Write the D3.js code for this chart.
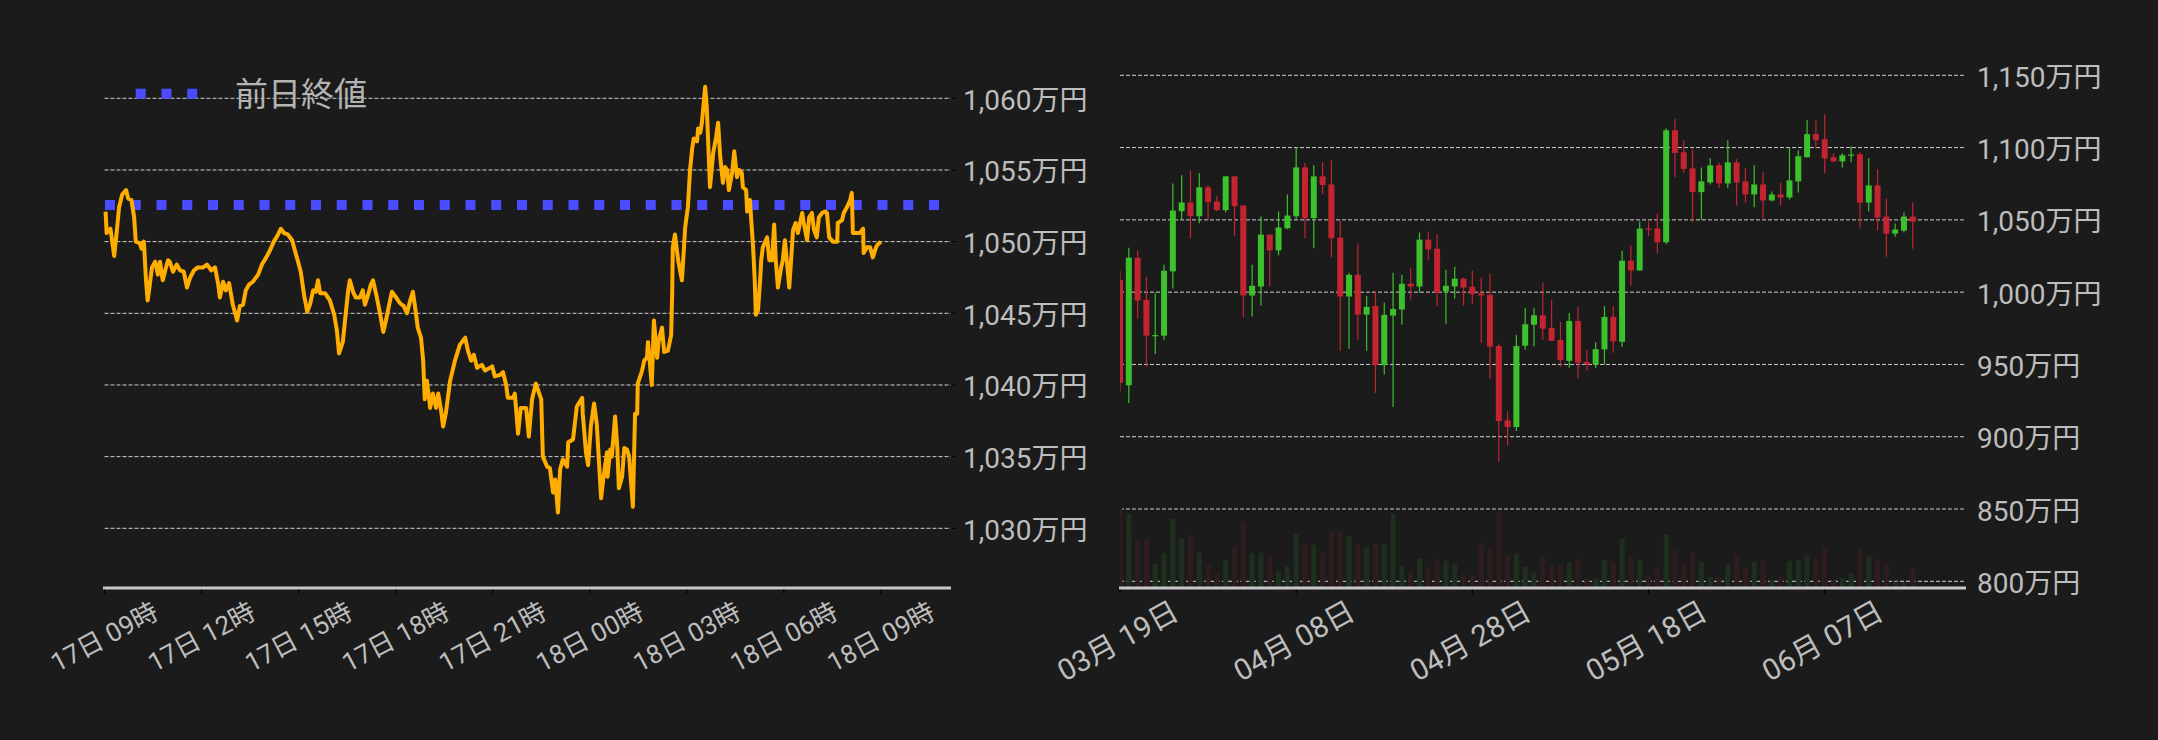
<!DOCTYPE html>
<html>
<head>
<meta charset="utf-8">
<script src="https://d3js.org/d3.v7.min.js"></script>
<style>
  body { margin: 0; background: #1b1b1b; }
  svg { display: block; }
  text { font-family: Roboto, 'Noto Sans CJK JP', sans-serif; fill: #bdbdbd; }
</style>
</head>
<body>
<svg id="chart" width="2158" height="740"></svg>
<script>
// ---------- intraday (17日 09時 -> 18日 09時), minutes from start / price in 万円
const lineMinutes = [2,4,11,18,23,27,33,40,44,50,55,58,65,69,73,77,80,84,88,94,99,103,108,114,118,121,127,134,140,147,
  153,159,166,173,183,190,198,205,211,214,220,225,231,238,246,251,257,262,268,275,285,292,300,307,314,322,327,333,340,348,
  353,359,364,370,376,381,387,392,396,400,409,418,426,431,435,442,448,452,455,461,466,474,479,483,489,494,498,504,511,517,
  522,528,533,541,548,555,561,567,572,578,581,587,591,594,598,604,609,615,619,624,628,633,641,650,659,669,674,680,685,691,
  700,706,719,724,734,739,745,748,758,761,767,772,782,784,787,793,800,810,813,821,826,832,836,841,845,850,858,860,869,876,
  886,887,893,897,902,908,913,915,921,925,932,933,938,941,947,951,954,960,964,969,973,980,984,988,989,997,1001,1006,1008,1012,
  1015,1019,1025,1028,1034,1038,1045,1051,1053,1054,1058,1064,1071,1077,1082,1086,1090,1093,1099,1101,1105,1108,1114,1117,1123,1129,
  1134,1138,1142,1147,1151,1155,1158,1164,1168,1173,1177,1182,1184,1190,1192,1197,1201,1203,1206,1208,1212,1216,1218,1221,1229,1233,
  1238,1242,1245,1249,1255,1258,1262,1270,1275,1277,1282,1286,1294,1297,1303,1307,1312,1316,1321,1325,1331,1336,1340,1344,1351,1359,
  1360,1368,1371,1377,1383,1386,1388,1396,1401,1407,1408,1414,1420,1425,1431,1434,1440];
const linePrices = [1052.1,1050.6,1050.9,1049.0,1050.8,1052.4,1053.3,1053.6,1053.0,1052.9,1051.7,1050.0,1049.9,1049.5,1050.0,1047.3,1045.9,1047.0,1048.2,1048.6,
  1047.7,1048.6,1047.3,1048.2,1048.7,1048.6,1047.9,1048.4,1048.0,1047.9,1046.8,1047.5,1048.0,1048.2,1048.2,1048.4,1048.0,1048.2,1047.0,1046.1,
  1047.2,1046.6,1047.1,1045.6,1044.5,1045.5,1045.6,1046.6,1047.0,1047.2,1047.7,1048.4,1048.9,1049.4,1050.0,1050.5,1050.9,1050.6,1050.5,1050.1,
  1049.4,1048.6,1047.9,1046.3,1045.1,1045.6,1046.6,1046.5,1047.3,1046.4,1046.4,1045.9,1044.9,1043.8,1042.2,1043.0,1045.2,1046.6,1047.3,1046.5,
  1046.1,1046.1,1046.6,1045.6,1046.3,1047.0,1047.3,1046.3,1045.0,1043.7,1044.5,1045.6,1046.5,1046.1,1045.7,1045.5,1045.0,1045.9,1046.5,1044.9,
  1044.0,1043.3,1041.7,1039.0,1040.3,1038.4,1039.4,1038.4,1039.4,1038.3,1037.1,1038.0,1040.3,1041.7,1042.8,1043.3,1042.4,1041.7,1042.1,1041.2,
  1041.4,1041.0,1041.3,1040.6,1040.7,1040.9,1040.0,1039.1,1039.1,1039.4,1036.6,1038.4,1038.4,1037.6,1036.4,1039.0,1040.1,1039.0,1035.0,1034.3,
  1034.2,1032.5,1033.4,1031.1,1034.1,1034.8,1034.3,1036.0,1036.2,1038.5,1039.1,1038.0,1035.3,1034.4,1037.1,1038.7,1037.3,1036.0,1032.1,1033.4,
  1035.3,1033.6,1035.5,1035.0,1037.8,1035.7,1032.8,1033.6,1035.6,1035.5,1035.0,1031.5,1038.0,1038.0,1040.1,1041.0,1041.7,1041.9,1043.0,1041.3,
  1040.0,1044.5,1041.9,1043.1,1044.0,1042.3,1042.4,1043.5,1046.6,1049.6,1050.5,1048.7,1047.3,1051.0,1052.4,1055.0,1056.5,1057.2,1057.0,1057.9,
  1057.6,1058.3,1060.8,1059.4,1053.8,1056.2,1057.2,1058.3,1055.9,1054.1,1055.2,1055.0,1053.6,1054.8,1056.3,1054.5,1055.0,1054.8,1053.8,1053.6,
  1052.1,1052.9,1050.7,1049.6,1047.3,1044.9,1045.2,1047.3,1048.7,1049.6,1050.3,1048.7,1048.7,1051.2,1048.7,1046.8,1048.2,1048.7,1050.1,1046.8,
  1049.6,1050.8,1051.3,1050.6,1052.0,1051.3,1050.1,1051.7,1052.0,1050.8,1050.3,1051.7,1052.0,1052.1,1052.0,1050.3,1050.0,1050.0,1051.3,1051.5,
  1052.0,1052.4,1052.9,1053.4,1050.6,1050.6,1050.6,1050.9,1049.2,1049.6,1049.6,1048.9,1049.6,1049.8,1050.0];
const prevClose = 1052.55;
const lineYTicks = [1030, 1035, 1040, 1045, 1050, 1055, 1060];
const lineXTickHours = [0, 3, 6, 9, 12, 15, 18, 21, 24];

// ---------- daily candles from 2024-03-19, price in 万円
const candleOpen = [1008.3,935.6,1023.8,994.7,969.8,969.9,1014.4,1056.0,1062.0,1052.5,1072.5,1062.7,1056.7,1080.1,1060.0,997.7,1003.9,1039.8,1028.9,1044.2,
  1052.5,1086.3,1051.2,1080.1,1074.5,1037.7,997.0,1012.0,984.5,990.5,949.5,983.8,988.0,1005.8,1003.9,1036.3,1030.1,1000.5,1003.9,1009.3,
  1003.7,999.1,998.1,962.7,911.3,906.7,963.0,977.5,984.0,975.2,966.9,952.5,980.1,951.6,950.0,960.4,982.9,965.7,1021.8,1015.0,
  1044.0,1044.0,1034.5,1112.0,1096.8,1085.6,1069.2,1075.9,1087.7,1075.2,1089.8,1076.6,1067.6,1074.5,1063.4,1067.6,1065.5,1076.6,1093.3,1109.3,
  1105.8,1093.3,1090.5,1094.7,1095.4,1062.0,1073.8,1052.3,1040.5,1042.6,1052.3];
const candleHigh = [1014.8,1030.8,1028.7,1010.6,999.3,1019.0,1075.2,1080.8,1084.3,1082.2,1073.8,1066.9,1080.1,1080.1,1060.0,1019.0,1052.3,1039.8,1055.8,1067.6,
  1100.0,1089.1,1087.7,1089.8,1091.2,1049.5,1013.4,1033.6,997.5,1000.9,992.6,1013.4,1012.0,1016.9,1041.2,1041.9,1039.8,1015.5,1017.6,1010.0,
  1014.8,1010.0,1012.7,964.4,917.6,970.4,989.1,989.1,1006.5,994.7,979.4,985.6,989.8,960.0,965.5,990.3,990.3,1028.7,1032.2,1048.8,
  1048.8,1054.4,1113.4,1119.7,1105.1,1098.8,1086.3,1092.6,1089.8,1105.1,1091.9,1085.6,1087.7,1082.9,1069.7,1075.9,1100.2,1098.1,1119.0,1119.0,
  1123.1,1096.1,1096.1,1100.9,1096.8,1092.6,1085.0,1064.8,1047.5,1055.1,1062.0];
const candleLow = [931.0,923.4,981.7,948.4,957.2,967.1,1002.5,1050.0,1037.3,1047.7,1049.5,1056.0,1055.1,1038.7,982.4,983.1,990.7,1003.9,1025.5,1043.5,
  1050.0,1037.3,1030.3,1067.8,1024.1,959.5,960.9,967.1,959.5,930.3,943.1,920.6,977.5,994.9,999.8,1022.0,990.0,978.2,995.6,990.7,
  992.1,965.0,940.0,883.1,894.2,903.9,960.2,962.5,966.7,966.4,948.4,947.7,940.7,945.6,947.7,950.0,958.1,962.2,1004.6,1015.0,
  1038.7,1026.9,1033.1,1079.6,1082.4,1048.4,1050.0,1074.5,1072.0,1072.0,1060.0,1062.0,1058.8,1050.0,1062.7,1060.0,1064.1,1069.0,1093.3,1099.5,
  1082.2,1089.8,1086.3,1089.8,1044.0,1055.8,1042.6,1024.5,1038.4,1041.2,1030.1];
const candleClose = [937.3,1023.8,994.2,969.9,970.3,1014.8,1056.5,1062.0,1052.5,1072.5,1062.3,1056.7,1080.1,1059.5,997.7,1004.4,1039.8,1028.9,1044.7,1053.0,
  1086.3,1051.2,1080.1,1074.1,1037.3,997.0,1012.0,984.5,989.8,949.5,984.3,988.4,1005.8,1003.9,1036.3,1029.6,999.8,1004.4,1009.3,1003.2,
  998.6,997.7,962.3,910.9,906.7,962.7,977.8,984.0,974.8,966.4,953.0,980.1,951.2,950.0,960.6,982.9,966.0,1021.8,1015.0,1044.0,
  1043.5,1034.5,1112.0,1096.3,1085.2,1069.2,1076.6,1087.7,1075.2,1089.8,1075.9,1067.6,1074.5,1063.4,1067.6,1065.5,1077.3,1094.0,1109.3,1105.1,
  1092.6,1090.5,1094.7,1095.2,1062.0,1073.8,1051.6,1040.5,1043.3,1052.3,1048.8];
const candleVolume = [80,74.3,46.3,50.3,24.3,35.3,69.3,49.3,53.3,35.3,23.3,14.3,28.3,41.3,66.3,35.3,35.3,32.3,16.3,21.3,
  54.3,43.3,43.3,35.3,57.3,57.3,52.3,43.3,40.3,44.3,44.3,74.3,21.3,16.3,29.3,21.3,29.3,27.3,23.3,14.3,
  13.3,45.3,40.3,76.3,33.3,34.3,21.3,15.3,30.3,22.3,23.3,25.3,29.3,10,9.3,28.3,25.3,49.3,31.3,28.3,
  11.3,20.3,53.3,38.3,25.3,36.3,26.3,11.3,10.3,23.3,32.3,20.3,26.3,28.3,8.3,12.3,27.3,28.3,32.3,30.3,
  40.3,7,10,14.3,39.3,31.3,29.3,25.3,6.3,5.3,20.3];
const dailyYTicks = [800, 850, 900, 950, 1000, 1050, 1100, 1150];
const dailyXTickDays = [0, 20, 40, 60, 80];

const svg = d3.select('#chart');
svg.append('rect').attr('width', 2158).attr('height', 740).attr('fill', '#1b1b1b');

const GRID = '#cfcfcf', AXIS = '#c8c8c8';
const UP = '#3cc02c', DOWN = '#c42430';

// ================= left chart =================
const t0 = Date.UTC(2024, 5, 17, 9, 0);
const lx = d3.scaleUtc().domain([new Date(t0), d3.utcMinute.offset(new Date(t0), 1570)]).range([104.5, 951]);
const ly = d3.scaleLinear().domain([1030, 1060]).range([528.3, 98.3]);
const left = svg.append('g');

left.selectAll('line.grid').data(lineYTicks).join('line')
  .attr('x1', 104.5).attr('x2', 951)
  .attr('y1', d => ly(d)).attr('y2', d => ly(d))
  .attr('stroke', GRID).attr('stroke-width', 1).attr('stroke-dasharray', '4,2');
left.selectAll('line.ytick').data(lineYTicks).join('line')
  .attr('x1', 951).attr('x2', 956)
  .attr('y1', d => ly(d)).attr('y2', d => ly(d))
  .attr('stroke', '#000').attr('stroke-width', 1);
left.selectAll('text.ylab').data(lineYTicks).join('text')
  .attr('x', 963).attr('y', d => ly(d) + 2)
  .attr('dominant-baseline', 'central')
  .style('font-size', '28px')
  .text(d => d3.format(',')(d) + '万円');

// prev close dotted line
left.append('line')
  .attr('x1', 105).attr('x2', 951)
  .attr('y1', ly(prevClose)).attr('y2', ly(prevClose))
  .attr('stroke', '#4b4bff').attr('stroke-width', 10).attr('stroke-dasharray', '10,15.75');

// price line
const lineData = lineMinutes.map((m, i) => [d3.utcMinute.offset(new Date(t0), m), linePrices[i]]);
left.append('path').datum(lineData)
  .attr('fill', 'none').attr('stroke', '#ffad00').attr('stroke-width', 4)
  .attr('stroke-linejoin', 'round')
  .attr('d', d3.line().x(d => lx(d[0])).y(d => ly(d[1])));

// legend
left.append('line')
  .attr('x1', 135.7).attr('x2', 198).attr('y1', 93.7).attr('y2', 93.7)
  .attr('stroke', '#4b4bff').attr('stroke-width', 10).attr('stroke-dasharray', '10,15.75');
left.append('text').attr('x', 235).attr('y', 94)
  .attr('dominant-baseline', 'central').style('font-size', '33px').style('fill', '#b4b4b4')
  .text('前日終値');

// x axis
left.append('line').attr('x1', 103).attr('x2', 951).attr('y1', 588).attr('y2', 588)
  .attr('stroke', AXIS).attr('stroke-width', 3);
const lxTicks = lineXTickHours.map(h => d3.utcHour.offset(new Date(t0), h));
left.selectAll('line.xtick').data(lxTicks).join('line')
  .attr('x1', d => lx(d)).attr('x2', d => lx(d)).attr('y1', 589.5).attr('y2', 594)
  .attr('stroke', '#000').attr('stroke-width', 1);
const fmtL = d3.utcFormat('%d日 %H時');
left.selectAll('text.xlab').data(lxTicks).join('text')
  .attr('transform', d => `translate(${lx(d)},637) rotate(-28)`)
  .attr('text-anchor', 'middle').attr('dominant-baseline', 'central')
  .style('font-size', '26px')
  .text(d => fmtL(d));

// ================= right chart =================
const d0 = new Date(Date.UTC(2024, 2, 19));
const rx = d3.scaleUtc().domain([d0, d3.utcHour.offset(d0, Math.round(96.05 * 24))]).range([1120, 1966]);
const ry = d3.scaleLinear().domain([800, 1150]).range([581.3, 75.3]);
const rv = d3.scaleLinear().domain([0, 80]).range([588, 508]);
const right = svg.append('g');

svg.append('clipPath').attr('id', 'rclip').append('rect')
  .attr('x', 1120).attr('y', 0).attr('width', 846).attr('height', 588);

right.selectAll('line.grid').data(dailyYTicks).join('line')
  .attr('x1', 1120).attr('x2', 1965)
  .attr('y1', d => ry(d)).attr('y2', d => ry(d))
  .attr('stroke', GRID).attr('stroke-width', 1).attr('stroke-dasharray', '4,2');
right.selectAll('text.ylab').data(dailyYTicks).join('text')
  .attr('x', 1977).attr('y', d => ry(d) + 2)
  .attr('dominant-baseline', 'central')
  .style('font-size', '28px')
  .text(d => d3.format(',')(d) + '万円');

const candles = candleOpen.map((o, i) => ({
  date: d3.utcDay.offset(d0, i), o, h: candleHigh[i], l: candleLow[i], c: candleClose[i], v: candleVolume[i]
}));
const plot = right.append('g').attr('clip-path', 'url(#rclip)');

// volume
plot.selectAll('rect.vol').data(candles).join('rect')
  .attr('x', d => rx(d.date) - 2.5).attr('width', 5)
  .attr('y', d => rv(d.v)).attr('height', d => rv(0) - rv(d.v))
  .attr('fill', d => d.c >= d.o ? 'rgb(31,47,29)' : 'rgb(47,28,30)');

// wicks
plot.selectAll('line.wick').data(candles).join('line')
  .attr('x1', d => rx(d.date)).attr('x2', d => rx(d.date))
  .attr('y1', d => ry(d.h)).attr('y2', d => ry(d.l))
  .attr('stroke', d => d.c >= d.o ? UP : DOWN).attr('stroke-width', 1.2);

// bodies
plot.selectAll('rect.body').data(candles).join('rect')
  .attr('x', d => rx(d.date) - 3).attr('width', 6)
  .attr('y', d => ry(Math.max(d.o, d.c)))
  .attr('height', d => Math.max(1.2, Math.abs(ry(d.o) - ry(d.c))))
  .attr('fill', d => d.c >= d.o ? UP : DOWN);

// x axis
right.append('line').attr('x1', 1119).attr('x2', 1966).attr('y1', 588).attr('y2', 588)
  .attr('stroke', AXIS).attr('stroke-width', 3);
const rxTicks = dailyXTickDays.map(n => d3.utcDay.offset(d0, n));
right.selectAll('line.xtick').data(rxTicks).join('line')
  .attr('x1', d => rx(d)).attr('x2', d => rx(d)).attr('y1', 589.5).attr('y2', 594)
  .attr('stroke', '#000').attr('stroke-width', 1);
const fmtR = d3.utcFormat('%m月 %d日');
right.selectAll('text.xlab').data(rxTicks).join('text')
  .attr('transform', d => `translate(${rx(d) - 2},641) rotate(-29)`)
  .attr('text-anchor', 'middle').attr('dominant-baseline', 'central')
  .style('font-size', '29.5px')
  .text(d => fmtR(d));
</script>
</body>
</html>
